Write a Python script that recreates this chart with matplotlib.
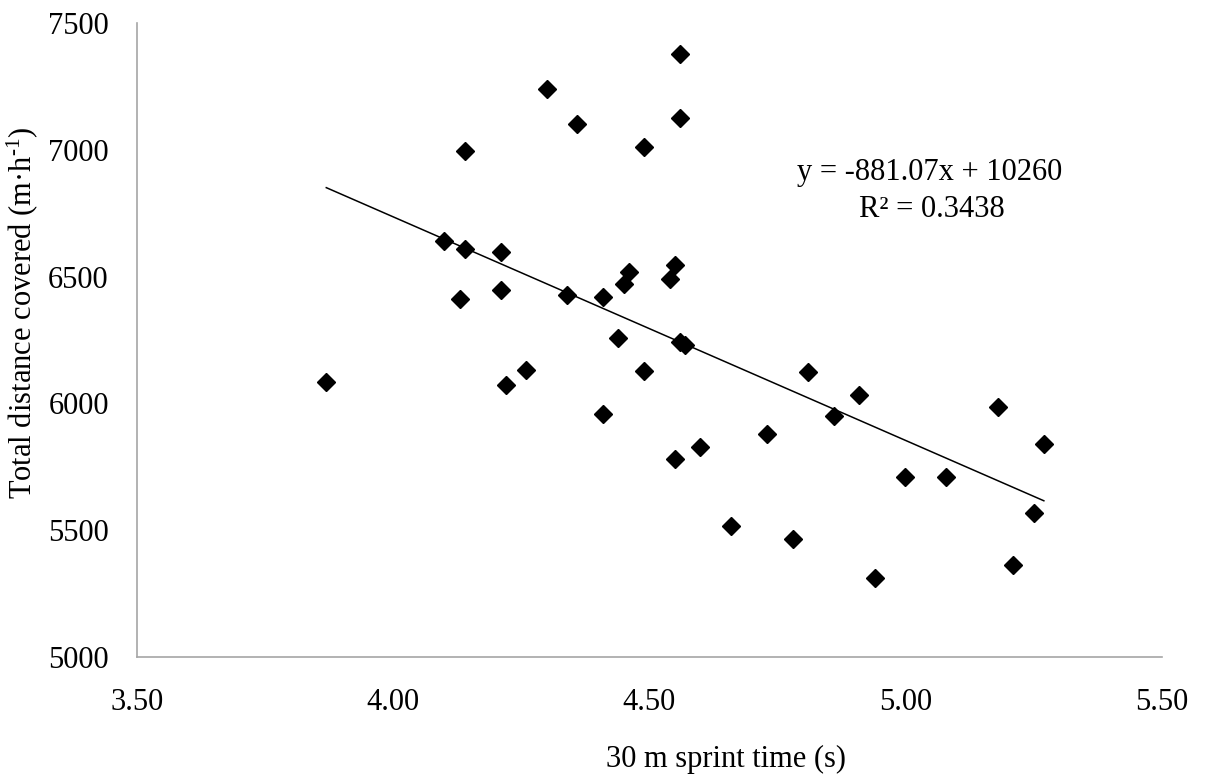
import numpy as np
import matplotlib
matplotlib.use('Agg')
import matplotlib.pyplot as plt
from matplotlib.ticker import FormatStrFormatter

plt.rcParams['font.family'] = ['Liberation Serif', 'DejaVu Serif']
plt.rcParams['mathtext.fontset'] = 'custom'
plt.rcParams['mathtext.rm'] = 'Liberation Serif'
plt.rcParams['mathtext.it'] = 'Liberation Serif:italic'

# 30 m sprint time (s) vs total distance covered (m/h)
sprint = [4.56, 4.30, 4.36, 4.56, 4.49, 4.14, 4.10, 4.14, 4.21, 4.13,
          4.21, 4.34, 4.41, 4.46, 4.45, 4.55, 4.54, 4.44, 4.56, 4.57,
          3.87, 4.26, 4.22, 4.49, 4.41, 4.60, 4.81, 4.91, 4.86, 4.73,
          5.18, 5.27, 5.00, 5.08, 5.25, 4.66, 4.78, 5.21, 4.94, 4.55]
distance = [7377, 7239, 7100, 7123, 7011, 6993, 6640, 6608, 6595, 6413,
            6447, 6427, 6421, 6517, 6469, 6545, 6489, 6258, 6243, 6230,
            6083, 6132, 6073, 6128, 5957, 5830, 6125, 6033, 5952, 5881,
            5985, 5840, 5709, 5711, 5568, 5518, 5466, 5365, 5314, 5781]

# trend line as printed on the chart
slope = -881.07
intercept = 10260
r2 = 0.3438

x = np.array(sprint)
y = np.array(distance)

fig = plt.figure(figsize=(12.06, 7.78), dpi=100)
ax = fig.add_axes([0.1133, 0.1551, 0.85, 0.8157])

xs = np.array([x.min(), x.max()])
ax.plot(xs, slope * xs + intercept, color='black', lw=1.1, zorder=2)
ax.plot(x, y, 'D', color='black', markersize=9.6, zorder=3)

ax.set_xlim(3.5, 5.5)
ax.set_ylim(5000, 7500)
ax.set_xticks(np.arange(3.5, 5.51, 0.5))
ax.set_yticks(np.arange(5000, 7501, 500))
ax.xaxis.set_major_formatter(FormatStrFormatter('%.2f'))

for s in ['top', 'right']:
    ax.spines[s].set_visible(False)
for s in ['left', 'bottom']:
    ax.spines[s].set_color('#a6a6a6')
    ax.spines[s].set_linewidth(1.2)

ax.tick_params(axis='both', length=0, labelsize=22)
ax.tick_params(axis='x', pad=22)
ax.tick_params(axis='y', pad=20)

ax.set_xlabel('30 m sprint time (s)', fontsize=22)
ax.xaxis.set_label_coords(0.575, -0.138)
ax.set_ylabel(r'Total distance covered (m·h$^{\text{-1}}$)', fontsize=22)
ax.yaxis.set_label_coords(-0.094, 0.543)

ax.text(0.774, 0.764, 'y = %.2fx + %d' % (slope, intercept), transform=ax.transAxes,
        ha='center', va='center', fontsize=22)
ax.text(0.776, 0.706, 'R² = %.4f' % r2, transform=ax.transAxes,
        ha='center', va='center', fontsize=22)

fig.savefig('out.png', dpi=100)
